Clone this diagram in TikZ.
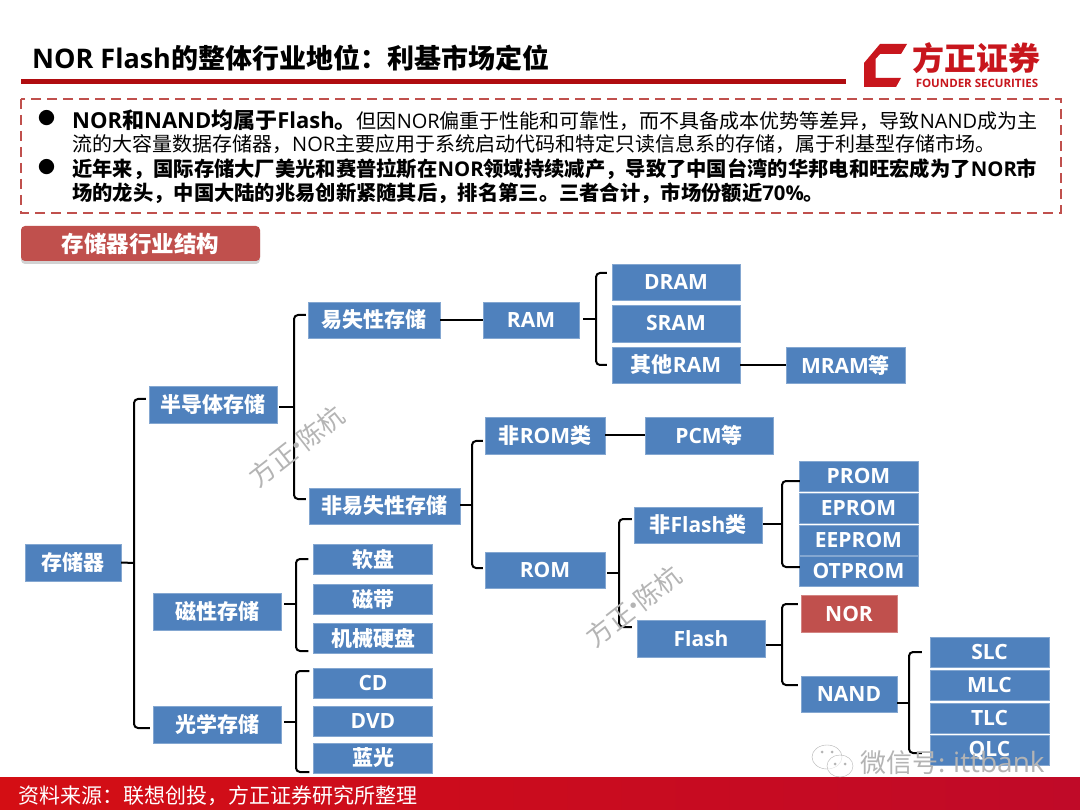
\documentclass[tikz,border=0pt]{standalone}
\usepackage{fontspec}
\usepackage{xcolor}
\usepackage{tikz}
\usetikzlibrary{shadows}
\setmainfont{Noto Sans CJK SC}
\newfontfamily\latfont{Open Sans}
\definecolor{box-blue}{HTML}{4F81BD}
\definecolor{box-red}{HTML}{C0504D}
\definecolor{bar-red}{HTML}{B00C10}
\definecolor{logo-red}{HTML}{C8161D}
\definecolor{mark-gray}{HTML}{B4B4B4}
\definecolor{foot-red}{HTML}{D40E14}
\definecolor{foot-dark}{HTML}{C00A28}
\newcommand{\fs}[1]{\fontsize{#1pt}{#1pt}\selectfont}
\newcommand{\la}[1]{{\latfont #1}}
\newcommand{\zw}{\char"FF0C\relax}
\newcommand{\zc}{\char"FF1A\relax}
\tikzset{
    tree-box/.style = {fill=box-blue, draw=box-blue!70!white, thin, text=white, inner sep=0pt, minimum height=36.5pt, minimum width=#1, font=\fs{21}\bfseries},
    tree-box/.default = 128pt,
    thin-box/.style = {tree-box=119pt, minimum height=30pt},
    stem/.style = {draw=black, line width=2pt},
    arm/.style = {draw=black, line width=2pt, rounded corners=4pt},
    body-line/.style = {anchor=west, inner sep=0pt, font=\fs{20}},
    water-mark/.style = {text=mark-gray, font=\fs{26}, rotate=38, inner sep=0pt},
}

\begin{document}
\begin{tikzpicture}[x=1pt, y=-1pt]
\useasboundingbox (0,0) rectangle (1080,810);
\fill[white] (0,0) rectangle (1080,810);

% heading
\node[anchor=west, inner sep=0pt, font=\fs{27}\bfseries] (title) at (32,58) {\la{NOR Flash}的整体行业地位\zc 利基市场定位};
\fill[bar-red] (21,79.5) rectangle (846,84.5);
\fill[logo-red] (907,44) -- (880,44) -- (864,63) -- (864,87) -- (896,87) -- (901,78) -- (875.5,78) -- (875.5,59) -- (880,54) -- (901,54) -- cycle;
\node[text=logo-red, inner sep=0pt, font=\fs{32}\bfseries] (logo-cn) at (976,58) {方正证券};
\node[text=logo-red, inner sep=0pt, font=\fs{11.5}\bfseries] (logo-en) at (977,83) {\la{FOUNDER SECURITIES}};

% summary
\draw[box-red, line width=1.8pt, dash pattern=on 10pt off 6pt] (21,99) rectangle (1061,213);
\node[body-line, font=\fs{17}] (dot-a) at (38,118) {●};
\node[body-line, font=\fs{17}] (dot-b) at (38,167) {●};
\node[body-line] (line-a) at (72,120) {{\fs{22}\bfseries\la{NOR}和\la{NAND}均属于\la{Flash}。}但因\la{NOR}偏重于性能和可靠性\zw 而不具备成本优势等差异\zw 导致\la{NAND}成为主};
\node[body-line] (line-b) at (72,144) {流的大容量数据存储器\zw\la{NOR}主要应用于系统启动代码和特定只读信息系的存储\zw 属于利基型存储市场。};
\node[body-line, font=\fs{20.3}\bfseries] (line-c) at (72,169) {近年来\zw 国际存储大厂美光和赛普拉斯在\la{NOR}领域持续减产\zw 导致了中国台湾的华邦电和旺宏成为了\la{NOR}市};
\node[body-line, font=\fs{20.3}\bfseries] (line-d) at (72,193) {场的龙头\zw 中国大陆的兆易创新紧随其后\zw 排名第三。三者合计\zw 市场份额近\la{70\%}。};

\node[fill=box-red, rounded corners=4pt, drop shadow={shadow xshift=0pt, shadow yshift=-3pt, opacity=.35}, text=white, inner sep=0pt, minimum width=239pt, minimum height=35pt, font=\fs{22.5}\bfseries] (tag) at (140.5,243.5) {存储器行业结构};

% first level
\node[tree-box=96pt] (mem) at (73,562.5) {存储器};
\node[tree-box] (semi) at (213,404.5) {半导体存储};
\node[tree-box] (magn) at (217,611.5) {磁性存储};
\node[tree-box] (opti) at (217,724.5) {光学存储};

% semiconductor side
\node[tree-box=132pt] (vola) at (374,320) {易失性存储};
\node[tree-box=151pt] (nvol) at (384.5,506) {非易失性存储};
\node[tree-box=96pt] (ram) at (531,320) {\la{RAM}};
\node[tree-box] (dram) at (676,282) {\la{DRAM}};
\node[tree-box] (sram) at (676,323.5) {\la{SRAM}};
\node[tree-box] (oram) at (676,365) {其他\la{RAM}};
\node[tree-box=119pt] (mram) at (845.5,365) {\la{MRAM}等};
\node[tree-box=120pt] (nrom) at (545,435.5) {非\la{ROM}类};
\node[tree-box] (pcm) at (709,435.5) {\la{PCM}等};
\node[tree-box=120pt] (rom) at (545,570) {\la{ROM}};
\node[tree-box] (nfla) at (698,525) {非\la{Flash}类};
\node[thin-box] (prom) at (858.5,476) {\la{PROM}};
\node[thin-box] (eprom) at (858.5,508) {\la{EPROM}};
\node[thin-box] (eeprom) at (858.5,540) {\la{EEPROM}};
\node[thin-box] (otprom) at (858.5,571) {\la{OTPROM}};
\node[tree-box] (flash) at (701,638.5) {\la{Flash}};
\node[tree-box=96pt, fill=box-red, draw=box-red!70!white] (nor) at (849,613.5) {\la{NOR}};
\node[tree-box=96pt] (nand) at (849,694) {\la{NAND}};
\node[thin-box] (slc) at (989.5,652) {\la{SLC}};
\node[thin-box] (mlc) at (989.5,685) {\la{MLC}};
\node[thin-box] (tlc) at (989.5,718) {\la{TLC}};
\node[thin-box] (qlc) at (989.5,750.5) {\la{QLC}};

% magnetic and optical side
\node[thin-box] (soft) at (373,559) {软盘};
\node[thin-box] (tape) at (373,599) {磁带};
\node[thin-box] (hdd) at (373,638) {机械硬盘};
\node[thin-box] (cd) at (373,683) {\la{CD}};
\node[thin-box] (dvd) at (373,721) {\la{DVD}};
\node[thin-box] (blue) at (373,758) {蓝光};

% straight links
\draw[stem] (vola) -- (ram);
\draw[stem] (oram) -- (mram);
\draw[stem] (nrom) -- (pcm);

% brace spines
\coordinate (mem-s) at (134,563);
\coordinate (semi-s) at (294,407);
\coordinate (magn-s) at (296,604);
\coordinate (opti-s) at (296,722);
\coordinate (ram-s) at (596,319);
\coordinate (nvol-s) at (472,505);
\coordinate (rom-s) at (619,573);
\coordinate (nfla-s) at (782,524);
\coordinate (flash-s) at (782,645);
\coordinate (nand-s) at (909,703);

\draw[stem] (mem.east) -- (mem-s);
\draw[arm] ([xshift=-3pt, yshift=5.5pt]semi.west) -| (mem-s) |- ([xshift=-3pt, yshift=-3.5pt]opti.west);
\draw[stem] ([yshift=-2.5pt, xshift=2pt]semi.east) -- (semi-s);
\draw[arm] ([xshift=-2pt, yshift=5pt]vola.west) -| (semi-s) |- ([xshift=-3pt, yshift=7pt]nvol.west);
\draw[stem] ([yshift=7.5pt, xshift=3pt]magn.east) -- (magn-s);
\draw[arm] ([xshift=-5pt]soft.west) -| (magn-s) |- ([xshift=-5pt, yshift=-13pt]hdd.west);
\draw[stem] ([yshift=2.5pt, xshift=3pt]opti.east) -- (opti-s);
\draw[arm] ([xshift=-4pt, yshift=12pt]cd.west) -| (opti-s) |- ([xshift=-4pt, yshift=-14pt]blue.west);
\draw[stem] ([xshift=4pt, yshift=1pt]ram.east) -- (ram-s);
\draw[arm] ([xshift=-5pt, yshift=9pt]dram.west) -| (ram-s) |- ([xshift=-5pt]oram.west);
\draw[stem] ([yshift=1pt]nvol.east) -- (nvol-s);
\draw[arm] ([xshift=-2pt, yshift=-5.5pt]nrom.west) -| (nvol-s) |- ([xshift=-2pt, yshift=2pt]rom.west);
\draw[stem] ([xshift=2pt, yshift=-3pt]rom.east) -- (rom-s);
\draw[arm] ([xshift=-2pt, yshift=6pt]nfla.west) -| (rom-s) |- ([xshift=-5pt, yshift=11.5pt]flash.west);
\draw[stem] ([xshift=1pt, yshift=1pt]nfla.east) -- (nfla-s);
\draw[arm] ([xshift=1pt, yshift=-5pt]prom.west) -| (nfla-s) |- ([xshift=1pt, yshift=4pt]otprom.west);
\draw[stem] ([xshift=1pt, yshift=-6.5pt]flash.east) -- (flash-s);
\draw[arm] ([xshift=-3pt, yshift=9.5pt]nor.west) -| (flash-s) |- ([xshift=-3pt, yshift=9pt]nand.west);
\draw[stem] ([yshift=-9pt]nand.east) -- (nand-s);
\draw[arm] ([xshift=-8pt]slc.west) -| (nand-s) |- ([xshift=-8pt, yshift=-2.5pt]qlc.west);

% footer
\shade[left color=foot-red, middle color=foot-red, right color=foot-dark] (0,777) rectangle (1080,810);
\node[anchor=west, text=white, inner sep=0pt, font=\fs{21}] (source) at (18,796) {资料来源\zc 联想创投\zw 方正证券研究所整理};

% watermarks
\node[water-mark] (mark-a) at (297,446) {方正\kern-9pt·\kern-9pt 陈杭};
\node[water-mark] (mark-b) at (634,606) {方正\kern-9pt·\kern-9pt 陈杭};
\draw[mark-gray, fill=white, fill opacity=.6] (827,757) ellipse (15 and 12);
\draw[mark-gray, fill=white, fill opacity=.6] (840,766) ellipse (13 and 11);
\fill[mark-gray] (822,752) circle (1.5) (832,752) circle (1.5) (835,764) circle (1.5) (845,764) circle (1.5);
\node[anchor=west, text=mark-gray, inner sep=0pt, font=\fs{26}] (wechat) at (860,763) {微信号: {\fs{28}\la{ittbank}}};
\end{tikzpicture}
\end{document}
